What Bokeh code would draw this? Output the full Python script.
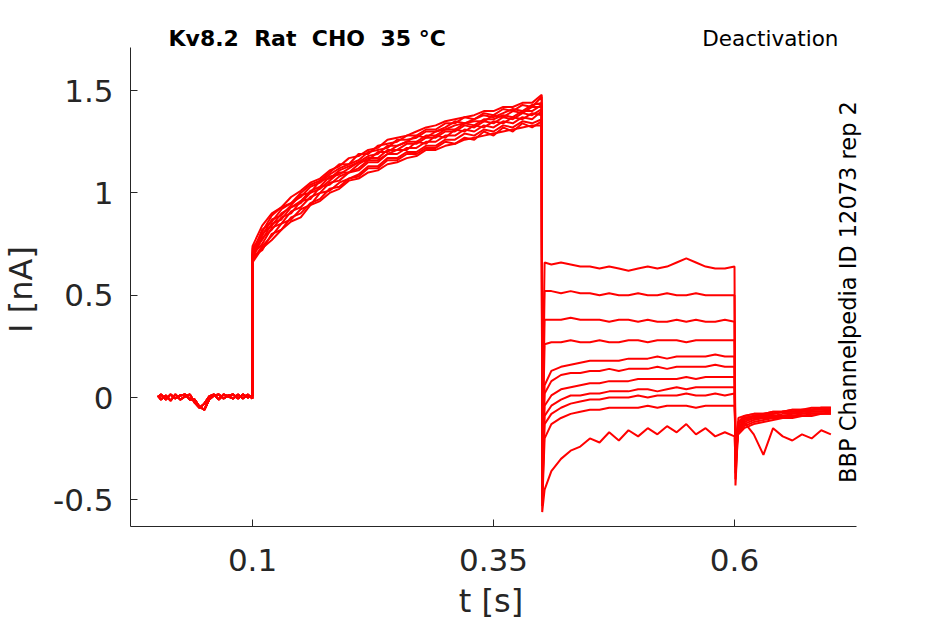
import numpy as np
from bokeh.plotting import figure
from bokeh.models import Range1d, FixedTicker, Label, ColumnDataSource
from bokeh.embed import file_html
from bokeh.resources import INLINE

# ---------------- data ----------------
# time grids [s]
BASE_T = [0.002] + [round(0.005 * i, 3) for i in range(1, 20)] + [0.0999]
ACT_T = [round(0.10 + 0.01 * i, 2) for i in range(31)]
DEACT_T = [0.4005, 0.403] + [round(0.41 + 0.01 * i, 2) for i in range(20)]
TAIL_T = [0.601, 0.604] + [round(0.61 + 0.01 * i, 2) for i in range(10)]

# holding baseline before the step [nA]
BASE_A = [0.00, 0.015, -0.01, 0.015, -0.005, 0.01, 0.015, -0.01, -0.01, -0.045, -0.06,
          -0.01, 0.01, 0.015, -0.005, 0.01, 0.015, -0.005, 0.015, 0.0, 0.01]
BASE_B = [0.01, -0.01, 0.01, -0.015, 0.015, -0.01, 0.005, 0.015, -0.025, -0.05, -0.03,
          0.005, 0.015, -0.01, 0.015, 0.005, -0.005, 0.015, -0.005, 0.015, -0.005]

# activation phase 0.10 - 0.40 s, one list per sweep [nA]
ACT = [
    [.74, .84, .90, .93, .98, 1.01, 1.05, 1.07, 1.11, 1.13, 1.17, 1.18, 1.21, 1.22, 1.26, 1.27,
     1.28, 1.30, 1.32, 1.33, 1.35, 1.36, 1.37, 1.38, 1.40, 1.40, 1.42, 1.42, 1.44, 1.44, 1.48],
    [.72, .81, .89, .93, .95, 1.00, 1.04, 1.06, 1.10, 1.14, 1.14, 1.19, 1.19, 1.23, 1.24, 1.25,
     1.28, 1.28, 1.31, 1.31, 1.34, 1.34, 1.37, 1.36, 1.39, 1.38, 1.41, 1.40, 1.43, 1.42, 1.47],
    [.70, .82, .86, .92, .95, .98, 1.03, 1.05, 1.09, 1.12, 1.14, 1.16, 1.20, 1.21, 1.22, 1.26,
     1.26, 1.27, 1.30, 1.30, 1.32, 1.35, 1.34, 1.36, 1.38, 1.37, 1.39, 1.41, 1.40, 1.43, 1.44],
    [.73, .79, .87, .89, .94, .99, 1.00, 1.06, 1.07, 1.11, 1.13, 1.15, 1.18, 1.19, 1.23, 1.23,
     1.25, 1.28, 1.27, 1.30, 1.31, 1.33, 1.34, 1.35, 1.35, 1.38, 1.37, 1.40, 1.39, 1.42, 1.42],
    [.69, .80, .84, .90, .93, .96, 1.01, 1.03, 1.08, 1.09, 1.12, 1.15, 1.16, 1.20, 1.20, 1.23,
     1.25, 1.25, 1.28, 1.28, 1.31, 1.31, 1.34, 1.33, 1.36, 1.36, 1.38, 1.37, 1.40, 1.40, 1.43],
    [.71, .77, .85, .87, .93, .95, 1.00, 1.02, 1.06, 1.10, 1.10, 1.14, 1.17, 1.17, 1.21, 1.21,
     1.24, 1.24, 1.27, 1.27, 1.30, 1.30, 1.33, 1.32, 1.35, 1.34, 1.37, 1.36, 1.39, 1.38, 1.41],
    [.68, .78, .82, .88, .90, .96, .97, 1.03, 1.04, 1.08, 1.10, 1.12, 1.16, 1.16, 1.19, 1.21,
     1.21, 1.25, 1.24, 1.28, 1.27, 1.31, 1.30, 1.33, 1.32, 1.35, 1.34, 1.37, 1.36, 1.39, 1.38],
    [.70, .75, .83, .85, .91, .93, .98, 1.00, 1.05, 1.06, 1.10, 1.11, 1.15, 1.15, 1.19, 1.19,
     1.22, 1.22, 1.25, 1.25, 1.28, 1.28, 1.31, 1.30, 1.33, 1.32, 1.35, 1.34, 1.37, 1.36, 1.40],
    [.67, .74, .79, .85, .87, .92, .94, 1.00, 1.01, 1.05, 1.07, 1.09, 1.13, 1.13, 1.17, 1.17,
     1.20, 1.20, 1.23, 1.23, 1.26, 1.26, 1.29, 1.28, 1.31, 1.30, 1.33, 1.32, 1.35, 1.34, 1.36],
    [.69, .72, .80, .82, .88, .90, .95, .97, 1.02, 1.03, 1.07, 1.08, 1.12, 1.12, 1.16, 1.16,
     1.19, 1.19, 1.22, 1.22, 1.25, 1.24, 1.27, 1.26, 1.30, 1.28, 1.32, 1.30, 1.34, 1.32, 1.35],
    [.66, .73, .77, .82, .86, .88, .94, .96, 1.00, 1.02, 1.06, 1.07, 1.10, 1.11, 1.14, 1.15,
     1.17, 1.18, 1.21, 1.21, 1.23, 1.24, 1.26, 1.27, 1.28, 1.29, 1.30, 1.31, 1.32, 1.33, 1.33],
]

# deactivation phase 0.40 - 0.60 s (first value = capacitive spike) [nA]
DEACT = [
    [-0.10, .66, .65, .66, .65, .64, .64, .63, .64, .63, .62, .63, .64, .63, .64, .66, .68, .66, .64, .63, .63, .64],
    [-0.18, .52, .52, .51, .52, .51, .51, .50, .51, .50, .50, .51, .50, .50, .51, .50, .50, .51, .50, .50, .50, .50],
    [-0.25, .38, .38, .38, .39, .38, .38, .38, .37, .38, .38, .37, .38, .37, .37, .38, .37, .38, .37, .37, .38, .37],
    [-0.30, .26, .27, .27, .28, .27, .27, .28, .27, .27, .28, .28, .27, .28, .28, .28, .27, .28, .28, .28, .28, .28],
    [-0.35, .06, .13, .15, .16, .17, .18, .18, .18, .18, .19, .19, .19, .20, .19, .20, .20, .20, .20, .21, .20, .20],
    [-0.40, .02, .08, .11, .12, .12, .13, .13, .14, .13, .14, .14, .14, .15, .14, .15, .15, .15, .15, .16, .15, .15],
    [-0.44, -.04, .01, .04, .05, .06, .07, .07, .08, .08, .08, .09, .09, .09, .09, .09, .10, .09, .10, .10, .10, .10],
    [-0.47, -.09, -.04, -.01, .01, .01, .02, .02, .03, .03, .03, .04, .04, .03, .04, .05, .04, .05, .05, .05, .05, .05],
    [-0.50, -.13, -.08, -.05, -.03, -.02, -.01, -.01, .00, .00, .00, .01, .00, .01, .01, .01, .02, .01, .01, .02, .01, .02],
    [-0.53, -.20, -.13, -.10, -.08, -.07, -.06, -.06, -.05, -.05, -.05, -.05, -.04, -.05, -.04, -.04, -.04, -.05, -.04, -.04, -.04, -.04],
    [-0.56, -.45, -.36, -.30, -.26, -.24, -.20, -.22, -.17, -.21, -.16, -.19, -.15, -.18, -.14, -.17, -.13, -.18, -.15, -.19, -.17, -.19],
]

# tail after return to holding 0.60 - 0.70 s (first value = spike) [nA]
TAIL = [
    [-0.43, -0.12, -.10, -.09, -.08, -.08, -.07, -.07, -.06, -.06, -.05, -.05],
    [-0.40, -0.13, -.11, -.09, -.09, -.08, -.07, -.07, -.07, -.06, -.06, -.06],
    [-0.37, -0.10, -.09, -.08, -.08, -.07, -.07, -.06, -.06, -.06, -.05, -.05],
    [-0.34, -0.14, -.12, -.10, -.09, -.09, -.08, -.08, -.07, -.07, -.07, -.06],
    [-0.31, -0.15, -.11, -.10, -.10, -.09, -.09, -.08, -.08, -.07, -.07, -.07],
    [-0.28, -0.16, -.13, -.11, -.10, -.10, -.09, -.09, -.08, -.08, -.08, -.07],
    [-0.26, -0.13, -.10, -.09, -.08, -.08, -.07, -.07, -.07, -.06, -.06, -.06],
    [-0.24, -0.17, -.14, -.12, -.11, -.10, -.10, -.09, -.09, -.08, -.08, -.08],
    [-0.22, -0.12, -.09, -.08, -.08, -.07, -.07, -.06, -.06, -.05, -.05, -.05],
    [-0.20, -0.18, -.15, -.13, -.12, -.11, -.10, -.10, -.09, -.09, -.08, -.08],
    [-0.30, -0.15, -.12, -.18, -.28, -.15, -.19, -.21, -.18, -.20, -.16, -.18],
]

X_TICKS = [0.1, 0.35, 0.6]
X_LABELS = ["0.1", "0.35", "0.6"]
Y_TICKS = [-0.5, 0.0, 0.5, 1.0, 1.5]
Y_LABELS = ["-0.5", "0", "0.5", "1", "1.5"]

TITLE = "Kv8.2\u00a0 Rat\u00a0 CHO\u00a0 35 °C"
PROTOCOL = "Deactivation"
SOURCE = "BBP Channelpedia ID 12073 rep 2"
X_NAME = "t [s]"
Y_NAME = "I [nA]"

# axes extent (data); the invisible frame covers the whole canvas so it also holds the texts
X_AXIS = (-0.0266, 0.7266)
Y_AXIS = (-0.6305, 1.7107)

# ---------------- figure ----------------
p = figure(width=930, height=620,
           x_range=Range1d(-0.16145, 0.7722), y_range=Range1d(-1.0899, 1.9208),
           output_backend="svg", toolbar_location=None,
           min_border_left=0, min_border_right=30,
           min_border_top=4, min_border_bottom=0)
p.background_fill_color = "white"
p.border_fill_color = "white"
p.outline_line_color = None
p.xgrid.visible = False
p.ygrid.visible = False

xs, ys = [], []
for k in range(len(ACT)):
    base = BASE_A if k % 2 == 0 else BASE_B
    xs.append(list(BASE_T) + ACT_T + DEACT_T + TAIL_T)
    ys.append(list(base) + ACT[k] + DEACT[k] + TAIL[k])
src = ColumnDataSource(dict(xs=xs, ys=ys))
p.multi_line("xs", "ys", source=src, line_color="#ff0000", line_width=2)

AX_COLOR = "#262626"
for ax in (p.xaxis[0], p.yaxis[0]):
    ax.major_tick_in = 7
    ax.major_tick_out = 0
    ax.minor_tick_line_color = None
    ax.axis_line_color = AX_COLOR
    ax.major_tick_line_color = AX_COLOR
    ax.major_label_text_font = "DejaVu Sans"
    ax.major_label_text_font_size = "31px"
    ax.major_label_text_color = AX_COLOR

p.xaxis.bounds = X_AXIS
p.yaxis.bounds = Y_AXIS
p.xaxis.fixed_location = Y_AXIS[0]
p.yaxis.fixed_location = X_AXIS[0]
p.xaxis.ticker = FixedTicker(ticks=X_TICKS)
p.xaxis.major_label_overrides = {t: s for t, s in zip(X_TICKS, X_LABELS)}
p.yaxis.ticker = FixedTicker(ticks=Y_TICKS)
p.yaxis.major_label_overrides = {t: s for t, s in zip(Y_TICKS, Y_LABELS)}
p.xaxis.major_label_standoff = 22
p.yaxis.major_label_standoff = 17

# texts inside the (invisible) frame; screen units from the frame's lower-left corner
p.add_layout(Label(x=490.5, y=19.5, x_units="screen", y_units="screen", text=X_NAME,
                   text_font="DejaVu Sans", text_font_size="32px",
                   text_color=AX_COLOR, text_baseline="alphabetic", text_align="center"))
p.add_layout(Label(x=20, y=331, x_units="screen", y_units="screen", text=Y_NAME,
                   angle=np.pi / 2, text_font="DejaVu Sans", text_font_size="32px",
                   text_color=AX_COLOR, text_baseline="alphabetic", text_align="center"))
p.add_layout(Label(x=168, y=582.3, x_units="screen", y_units="screen", text=TITLE,
                   text_font="DejaVu Sans", text_font_style="bold",
                   text_font_size="22px", text_color="black",
                   text_baseline="alphabetic", text_align="left"))
p.add_layout(Label(x=838, y=582.3, x_units="screen", y_units="screen", text=PROTOCOL,
                   text_font="DejaVu Sans", text_font_size="21.5px", text_color="black",
                   text_baseline="alphabetic", text_align="right"))
p.add_layout(Label(x=847.7, y=328.5, x_units="screen", y_units="screen", text=SOURCE,
                   angle=np.pi / 2, text_font="DejaVu Sans", text_font_size="22.5px",
                   text_color="black", text_baseline="alphabetic", text_align="center"))

open("out.html", "w").write(file_html(p, INLINE))
